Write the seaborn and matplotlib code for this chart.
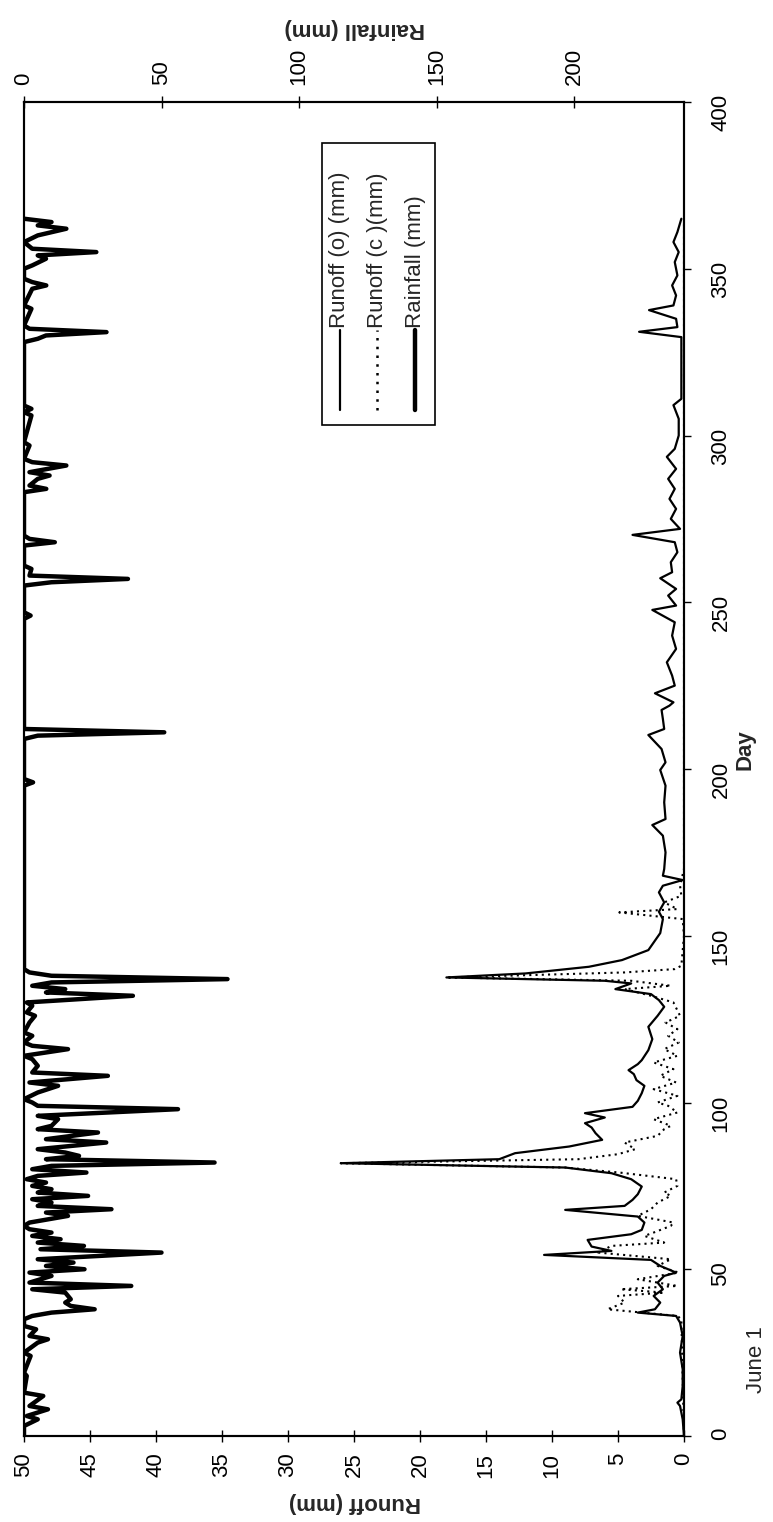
import matplotlib
matplotlib.use("Agg")
import matplotlib.pyplot as plt
import seaborn as sns
from matplotlib.lines import Line2D
from matplotlib.patches import Rectangle

obs_day = [0, 5, 9, 10, 11, 15, 20, 25, 30, 34, 36, 37, 38, 40, 42, 44, 46, 48, 49,
           51, 52.8, 54.3, 55.5, 56.8, 58.8, 60.5, 61.8, 64, 65.8, 67.8, 69, 70.8,
           72.5, 74.8, 77, 78.8, 80.5, 81.8, 83, 84.8, 86.8, 88.8, 90.8, 92.5, 93.8,
           95.5, 96.8, 98.7, 100.5, 102.8, 105, 106.7, 108.5, 109.7, 111.5, 112.7,
           115.7, 119, 122.7, 126, 128.7, 130.7, 132.5, 134, 135.7, 136.5, 137.5,
           138.7, 140.7, 142.7, 145.7, 150.8, 155, 157.2, 160, 163, 165, 166.7,
           168, 170, 175, 180, 183.2, 185, 190, 195, 199.7, 202, 206, 210.2, 212,
           215, 217.7, 219, 220, 222.7, 225, 228, 232, 236, 240, 244, 247.7, 249,
           252, 254, 257.2, 259, 262, 265, 268, 270.2, 272, 275, 278, 281, 284,
           287, 290, 293.6, 296, 300, 305, 309.1, 311, 320, 329.5, 331.1, 332.5,
           335, 337.6, 339, 342, 345, 348, 352, 355, 358, 361, 365]
obs_mm = [0, 0.1, 0.3, 0.5, 0.2, 0.1, 0.1, 0.3, 0.1, 0.3, 0.6, 3.5, 2.2, 1.8, 2.3, 1.6,
          2.0, 1.5, 0.6, 1.8, 2.5, 10.6, 5.5, 7.0, 7.3, 4.0, 3.2, 3.0, 3.5, 9.0,
          4.5, 3.9, 3.5, 3.2, 4.0, 5.5, 9.0, 26.0, 14.0, 12.8, 8.7, 6.2, 6.7, 7.0,
          7.5, 6.0, 7.5, 3.9, 3.5, 3.2, 3.0, 3.6, 3.8, 4.2, 3.5, 3.2, 2.7, 2.4,
          2.7, 2.0, 1.5, 1.9, 2.5, 5.2, 4.0, 6.0, 18.0, 12.0, 7.2, 4.7, 2.7, 1.8,
          1.6, 1.9, 1.5, 1.9, 1.6, 0.1, 1.6, 1.5, 1.4, 1.6, 2.4, 1.4, 1.5, 1.4,
          1.8, 1.4, 1.7, 2.7, 1.5, 1.6, 1.7, 1.1, 0.8, 2.2, 0.7, 0.9, 1.3, 0.6,
          0.9, 0.7, 2.4, 0.6, 1.2, 0.6, 1.8, 0.9, 1.0, 0.5, 0.7, 3.9, 0.3, 1.0,
          0.6, 1.1, 0.7, 1.2, 0.6, 1.3, 0.7, 0.4, 0.4, 0.8, 0.2, 0.2, 0.2, 3.4,
          0.5, 0.6, 2.65, 0.8, 0.6, 0.9, 0.5, 0.7, 0.4, 0.8, 0.5, 0.2]

# computed runoff (mm)
calc_day = [0, 35, 36, 38, 40, 42, 43, 44, 45, 47, 49, 51, 53, 55, 57, 58, 60, 61,
            63, 64, 66, 68, 70, 72, 73, 75, 77, 79, 80.5, 81.8, 83, 84.5, 86, 88,
            90, 92, 93, 95, 97, 99, 100, 102, 104, 106, 108, 110, 112, 114, 116,
            118, 120, 122, 124, 126, 130, 132, 134, 135, 136.5, 137.5, 139, 140,
            141, 150, 155, 157, 158, 160, 162, 165, 170, 365]
calc_mm = [0, 0.2, 0.5, 5.8, 4.5, 5.0, 1.5, 4.8, 0.5, 3.5, 0.4, 2.0, 1.0, 6.5, 5.5,
           1.5, 3.0, 2.3, 1.0, 0.8, 3.5, 2.5, 2.0, 1.0, 1.5, 0.5, 0.6, 4.9, 9.0,
           26.0, 8.0, 5.0, 3.7, 4.5, 2.0, 1.5, 1.0, 2.3, 0.5, 1.2, 2.0, 0.5, 2.3,
           0.6, 1.8, 0.8, 2.3, 0.5, 1.5, 0.4, 1.2, 0.5, 1.4, 0.3, 0.8, 2.5, 4.5,
           1.0, 4.0, 18.0, 4.5, 0.7, 0.2, 0.0, 0.1, 4.9, 0.5, 1.5, 0.2, 0.3, 0.0, 0.0]

# rainfall (mm)
rain_day = [0, 3, 5, 6, 8, 9, 12, 13, 18, 19, 24, 25, 28, 29, 30, 32, 33, 35, 36,
            37, 38, 39, 40, 41, 42, 43, 44, 45, 46, 48, 49, 50, 51, 52, 53, 55,
            56, 57, 58, 59, 60, 61, 62, 63, 64, 66, 67, 68, 69, 70, 71, 72, 73,
            74, 75, 76, 77, 78, 79, 80, 81, 82, 83, 84, 85, 86, 88, 89, 91, 92,
            93, 95, 96, 98, 99, 100, 101, 103, 105, 106, 108, 109, 111, 113, 114,
            116, 117, 118, 120, 121, 124, 126, 127, 129, 130, 132, 133, 134, 135,
            136, 137, 138, 139, 140, 195, 196, 197, 209, 210, 211, 212, 245, 246,
            247, 255, 256, 257, 258, 260, 261, 267, 268, 269, 270, 283, 284, 285,
            287, 288, 289, 291, 292, 293, 297, 298, 306, 307, 308, 309, 328, 329,
            330, 331, 332, 333, 338, 339, 344, 345, 346, 347, 350, 351, 353, 354,
            355, 356, 358, 360, 362, 363, 364, 365]
rain_mm = [0, 0, 5, 1, 8.7, 2, 7, 0, 1, 0, 2.4, 0, 5, 8.7, 2, 4.4, 0, 0, 3,
           10, 25.7, 17, 15, 17, 16, 15, 3, 39, 2, 10, 2, 22, 8, 18, 5, 50,
           6, 21.8, 5, 13.3, 3, 10, 2, 0, 2, 16, 8, 31.8, 5, 10, 3, 23.3, 5,
           10, 3, 8, 1, 5, 22.7, 3, 10, 69.3, 8, 20, 15, 5, 29.9, 8, 26.9, 5,
           10, 12.4, 5, 56, 5, 3, 0, 5, 12.4, 2, 30.5, 3, 5, 3, 0,
           16, 3, 0, 3, 0, 2, 4, 1, 3, 1, 39.6, 8, 15, 3,
           10, 74, 10, 2, 0, 0, 3.3, 0, 0, 5, 51, 0, 0, 2.4,
           0, 0, 10, 37.8, 2, 2.7, 0, 0, 11.2, 2, 0, 0, 8.1, 2,
           5, 9.3, 2, 15.4, 3, 0, 2, 0, 2.7, 0, 2.7, 0, 0, 5,
           8, 30, 2, 0, 2.7, 0, 3, 8.1, 3, 0, 0, 3, 8, 5,
           26.3, 3, 0, 5, 15.4, 5, 10, 0]

sns.set_theme(style="white")
plt.rcParams["font.family"] = ["Liberation Sans", "DejaVu Sans"]

W, H = 773, 1522
fig = plt.figure(figsize=(W / 100, H / 100), dpi=100)
ax = fig.add_axes([24 / W, 1 - 1436 / H, 660 / W, (1436 - 102) / H])

sns.lineplot(x=calc_mm, y=calc_day, sort=False, estimator=None, color="black",
             lw=1.5, linestyle=(0, (1, 2)), ax=ax)
sns.lineplot(x=obs_mm, y=obs_day, sort=False, estimator=None, color="black",
             lw=1.6, ax=ax)
ax.set_xlim(50, 0)
ax.set_ylim(0, 400)
ax.set_xticks(range(0, 51, 5))
ax.set_yticks(range(0, 401, 50))
ax.yaxis.tick_right()
ax.tick_params(axis="x", bottom=True, direction="inout", length=8, width=1,
               labelrotation=90, labelsize=16, pad=8, colors="black")
ax.tick_params(axis="y", right=True, left=False, direction="out", length=5, width=1,
               labelrotation=90, labelsize=16, pad=14, colors="black")
ax.set_xlabel("")
ax.set_ylabel("")

ax2 = ax.twiny()
sns.lineplot(x=rain_mm, y=rain_day, sort=False, estimator=None, color="black",
             lw=3.2, ax=ax2)
ax2.set_xlim(0, 240)
ax2.set_xticks(range(0, 201, 50))
ax2.tick_params(axis="x", top=True, direction="inout", length=8, width=1,
                labelrotation=90, labelsize=16, pad=8, colors="black")
ax2.set_xlabel("")
ax2.set_ylabel("")

for a in (ax, ax2):
    for s in a.spines.values():
        s.set_color("black")
        s.set_linewidth(1.5)

# axis titles (chart is turned on its side)
fig.text(355 / W, 1 - 1502 / H, "Runoff (mm)", rotation=180, ha="center", va="center",
         fontsize=16, fontweight="bold")
fig.text(355 / W, 1 - 28 / H, "Rainfall (mm)", rotation=180, ha="center", va="center",
         fontsize=16, fontweight="bold")
fig.text(745 / W, 1 - 750 / H, "Day", rotation=90, ha="center", va="center",
         fontsize=16, fontweight="bold")
fig.text(756 / W, 1 - 1360 / H, "June 1", rotation=90, ha="center", va="center",
         fontsize=16)

# legend, drawn by hand because it is rotated
fig.patches.append(Rectangle((322 / W, 1 - 425 / H), 113 / W, 282 / H,
                             transform=fig.transFigure, fill=False, ec="black", lw=1.2))
entries = [("Runoff (o) (mm)", 340, "-", 1.6),
           ("Runoff (c )(mm)", 377, (0, (1, 2.5)), 1.8),
           ("Rainfall (mm)", 415, "-", 3.2)]
for label, xp, ls, lw in entries:
    fig.lines.append(Line2D([xp / W, xp / W], [1 - 410 / H, 1 - 330 / H],
                            transform=fig.transFigure, color="black", ls=ls, lw=lw))
    fig.text(xp / W, 1 - 328 / H, label, rotation=90, rotation_mode="anchor",
             ha="left", va="center", fontsize=16)

fig.savefig("out.png", dpi=100)
